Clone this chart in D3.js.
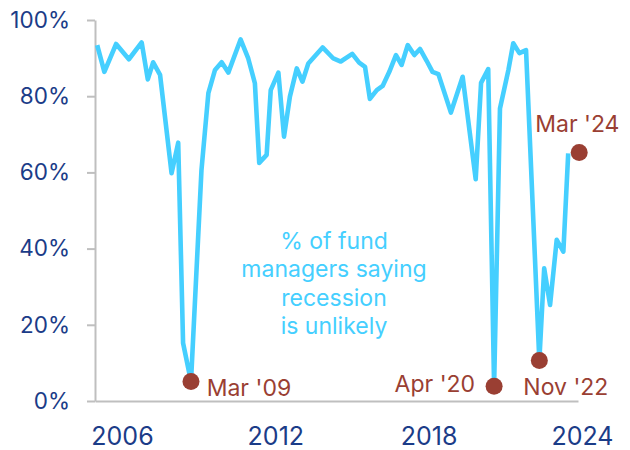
<!DOCTYPE html>
<html>
<head>
<meta charset="utf-8">
<script src="https://cdn.jsdelivr.net/npm/d3@7"></script>
<style>
  body { margin: 0; background: #fff; }
  svg { display: block; font-family: Inter, "Noto Sans", sans-serif; }
</style>
</head>
<body>
<div id="chart"></div>
<script>
// survey dates (decimal years) and % saying recession unlikely
const dates = [
  2005.03, 2005.31, 2005.77, 2006.27, 2006.77, 2007.01, 2007.22, 2007.49, 2007.94, 2008.20,
  2008.39, 2008.70, 2009.11, 2009.38, 2009.64, 2009.90, 2010.16, 2010.64, 2010.94, 2011.20,
  2011.37, 2011.66, 2011.82, 2012.12, 2012.34, 2012.57, 2012.84, 2013.06, 2013.29, 2013.85,
  2014.27, 2014.56, 2015.01, 2015.28, 2015.51, 2015.70, 2015.97, 2016.20, 2016.46, 2016.72,
  2016.94, 2017.18, 2017.44, 2017.66, 2017.92, 2018.15, 2018.38, 2018.87, 2019.33, 2019.84,
  2020.05, 2020.33, 2020.56, 2020.79, 2021.12, 2021.31, 2021.55, 2021.81, 2022.33, 2022.52,
  2022.75, 2023.01, 2023.27, 2023.46
];
const values = [
  93.4, 86.4, 93.7, 89.7, 94.1, 84.4, 88.9, 85.6, 59.8, 67.8,
  15.2, 5.1, 60.6, 80.8, 86.9, 88.9, 86.2, 94.9, 89.9, 83.4,
  62.5, 64.6, 81.6, 86.2, 69.4, 79.9, 87.3, 83.8, 88.6, 92.8,
  89.9, 89.1, 91.1, 88.8, 87.7, 79.3, 81.6, 82.7, 86.4, 90.8,
  88.2, 93.4, 90.8, 92.4, 89.3, 86.4, 85.8, 75.7, 85.1, 58.2,
  83.5, 87.1, 3.9, 76.8, 86.9, 93.9, 91.3, 92.1, 10.6, 34.8,
  25.2, 42.3, 39.2, 65.0
];

const callLabels = ["Mar '09", "Apr '20", "Nov '22", "Mar '24"];
const callDates = [2008.70, 2020.56, 2022.33, 2023.89];
const callValues = [5.1, 3.9, 10.6, 65.2];

const yTicks = [0, 20, 40, 60, 80, 100];
const xTicks = [2006, 2012, 2018, 2024];
const seriesLabel = ["% of fund", "managers saying", "recession", "is unlikely"];

const width = 630, height = 450;
const navy = "#1b3c88", sky = "#45cfff", brick = "#9a3f33", grey = "#bfbfbf";

const x = d3.scaleLinear().domain([2004.944, 2023.843]).range([95, 578]);
const y = d3.scaleLinear().domain([0, 100]).range([401, 20]);

const svg = d3.select("#chart").append("svg")
    .attr("width", width)
    .attr("height", height);

// y axis
const yAxis = svg.append("g")
    .attr("transform", `translate(${x.range()[0]},0)`)
    .call(d3.axisLeft(y).tickValues(yTicks).tickSize(8).tickSizeOuter(0).tickPadding(17)
        .tickFormat(d => d + "%"));
yAxis.selectAll("path, line").attr("stroke", grey).attr("stroke-width", 2);
yAxis.selectAll("text").attr("fill", navy).attr("font-size", 22.5).attr("font-family", "Inter");

// x axis
const xAxis = svg.append("g")
    .attr("transform", `translate(0,${y(0)})`)
    .call(d3.axisBottom(x).tickValues(xTicks).tickSize(0).tickSizeOuter(0).tickPadding(26)
        .tickFormat(d3.format("d")));
xAxis.selectAll("path").attr("stroke", grey).attr("stroke-width", 2);
xAxis.selectAll("text").attr("fill", navy).attr("font-size", 25).attr("font-family", "Inter");

// line
const line = d3.line()
    .x((d, i) => x(dates[i]))
    .y(d => y(d));

svg.append("path")
    .datum(values)
    .attr("fill", "none")
    .attr("stroke", sky)
    .attr("stroke-width", 4.6)
    .attr("stroke-linejoin", "round")
    .attr("d", line);

// series label
svg.append("text")
    .attr("text-anchor", "middle")
    .attr("fill", sky)
    .attr("font-size", 23)
    .selectAll("tspan")
    .data(seriesLabel)
    .join("tspan")
    .attr("x", 334)
    .attr("y", (d, i) => 249 + i * 28.3)
    .text(d => d);

// callouts
const callOffsets = {
    "Mar '09": { dx: 15.7, dy: 14, anchor: "start" },
    "Apr '20": { dx: -19, dy: 5.7, anchor: "end" },
    "Nov '22": { dx: -16, dy: 34, anchor: "start" },
    "Mar '24": { dx: -44, dy: -21, anchor: "start" }
};

const calls = svg.append("g")
    .selectAll("g")
    .data(callLabels)
    .join("g")
    .attr("transform", (d, i) => `translate(${x(callDates[i])},${y(callValues[i])})`);

calls.append("circle")
    .attr("r", 8.5)
    .attr("fill", brick);

calls.append("text")
    .attr("x", d => callOffsets[d].dx)
    .attr("y", d => callOffsets[d].dy)
    .attr("text-anchor", d => callOffsets[d].anchor)
    .attr("fill", brick)
    .attr("font-size", 23)
    .text(d => d);
</script>
</body>
</html>
